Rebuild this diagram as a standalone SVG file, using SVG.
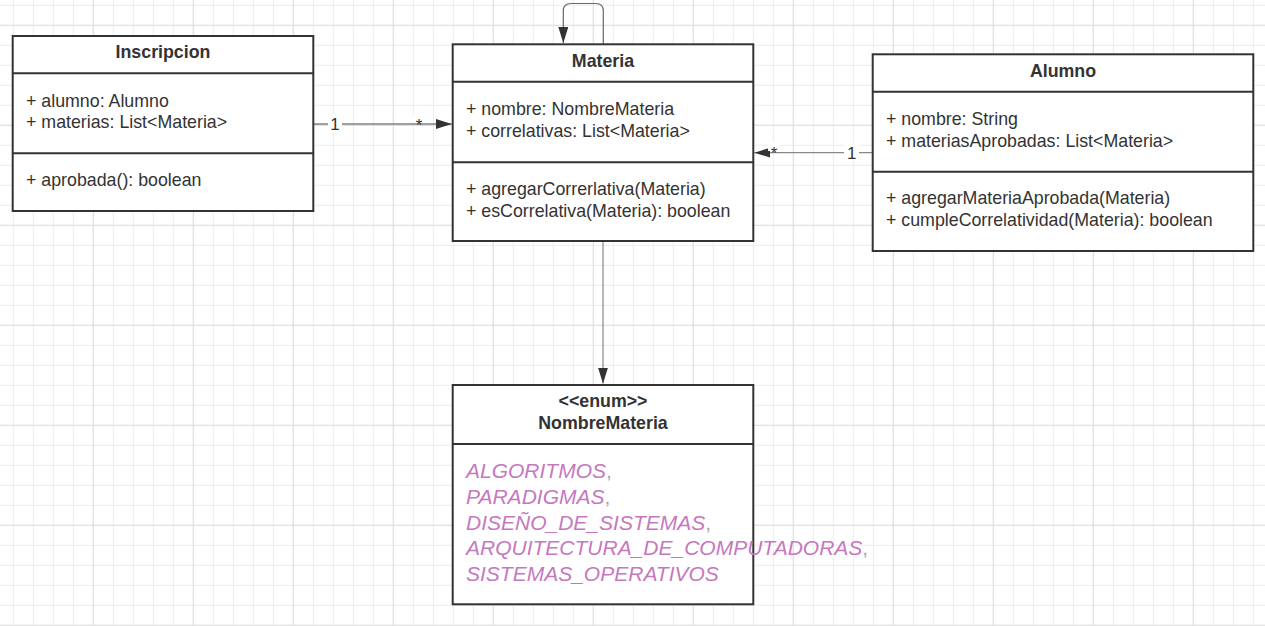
<svg xmlns="http://www.w3.org/2000/svg" width="1265" height="626" viewBox="0 0 1265 626">
<defs>
<pattern id="gmin" patternUnits="userSpaceOnUse" x="12.8" y="4.8" width="20" height="20">
<rect x="0" y="0" width="20" height="1" fill="#ececec"/>
<rect x="0" y="0" width="1" height="20" fill="#ececec"/>
</pattern>
<pattern id="gmaj" patternUnits="userSpaceOnUse" x="92.8" y="24.8" width="100" height="100">
<rect x="0" y="0" width="100" height="1" fill="#dedede"/>
<rect x="0" y="0" width="1" height="100" fill="#dedede"/>
</pattern>
<marker id="arr" viewBox="0 0 16 10" refX="16" refY="5" markerWidth="16" markerHeight="10" markerUnits="userSpaceOnUse" orient="auto">
<path d="M0,0 L16,5 L0,10 Z" fill="#333"/>
</marker>
<style>
.box{fill:#fff;stroke:#333;stroke-width:2}
.div{stroke:#333;stroke-width:2}
.t{font-family:"Liberation Sans",Arial,sans-serif;font-size:17.8px;fill:#333}
.b{font-weight:bold;text-anchor:middle}
.e{font-family:"Liberation Sans",Arial,sans-serif;font-size:21px;font-style:italic;fill:#c678bf}
.cm{fill:#aaa;font-style:normal}
.c{fill:none;stroke-width:1.2}
.lb{font-family:"Liberation Sans",Arial,sans-serif;font-size:17px;fill:#333;text-anchor:middle}
</style>
</defs>
<rect width="1265" height="626" fill="#fff"/>
<rect width="1265" height="626" fill="url(#gmin)"/>
<rect width="1265" height="626" fill="url(#gmaj)"/>

<g id="connectors">
<path class="c" stroke="#444" d="M313,124 L451.7,124" marker-end="url(#arr)"/>
<rect x="328" y="114" width="14" height="18" fill="#fff"/>
<text class="lb" x="335" y="130">1</text>
<rect x="413" y="114" width="11" height="9" fill="#fff"/>
<text class="lb" x="419" y="131">*</text>

<path class="c" stroke="#888" d="M872,152.7 L754.3,152.7" marker-end="url(#arr)"/>
<rect x="768" y="142" width="12" height="9" fill="#fff"/>
<text class="lb" x="774" y="159">*</text>
<rect x="844" y="143" width="15" height="18" fill="#fff"/>
<text class="lb" x="851.7" y="159">1</text>

<path class="c" stroke="#888" d="M603,242 L603,383.5" marker-end="url(#arr)"/>

<path class="c" stroke="#666" d="M603.3,44 L603.3,11 Q603.3,3.5 596,3.5 L571,3.5 Q563.3,3.5 563.3,11 L563.3,43" marker-end="url(#arr)"/>
</g>

<g id="inscripcion">
<rect class="box" x="12.7" y="36" width="300.6" height="175"/>
<line class="div" x1="12.7" y1="73.3" x2="313.3" y2="73.3"/>
<line class="div" x1="12.7" y1="153.3" x2="313.3" y2="153.3"/>
<text class="t b" x="163" y="58.3">Inscripcion</text>
<text class="t" x="26" y="106.7">+ alumno: Alumno</text>
<text class="t" x="26" y="128.3">+ materias: List&lt;Materia&gt;</text>
<text class="t" x="26" y="186">+ aprobada(): boolean</text>
</g>

<g id="materia">
<rect class="box" x="452.7" y="44.3" width="300.6" height="196.7"/>
<line class="div" x1="452.7" y1="81.7" x2="753.3" y2="81.7"/>
<line class="div" x1="452.7" y1="162.3" x2="753.3" y2="162.3"/>
<text class="t b" x="603" y="66.7">Materia</text>
<text class="t" x="466" y="115">+ nombre: NombreMateria</text>
<text class="t" x="466" y="136.7">+ correlativas: List&lt;Materia&gt;</text>
<text class="t" x="466" y="195">+ agregarCorrerlativa(Materia)</text>
<text class="t" x="466" y="216.7">+ esCorrelativa(Materia): boolean</text>
</g>

<g id="alumno">
<rect class="box" x="872.7" y="54.3" width="380.6" height="196.7"/>
<line class="div" x1="872.7" y1="91.7" x2="1253.3" y2="91.7"/>
<line class="div" x1="872.7" y1="171.7" x2="1253.3" y2="171.7"/>
<text class="t b" x="1063" y="76.7">Alumno</text>
<text class="t" x="886" y="125">+ nombre: String</text>
<text class="t" x="886" y="146.7">+ materiasAprobadas: List&lt;Materia&gt;</text>
<text class="t" x="886" y="204.4">+ agregarMateriaAprobada(Materia)</text>
<text class="t" x="886" y="226">+ cumpleCorrelatividad(Materia): boolean</text>
</g>

<g id="nombremateria">
<rect class="box" x="452.7" y="385" width="300.6" height="219.3"/>
<line class="div" x1="452.7" y1="444" x2="753.3" y2="444"/>
<text class="t b" x="603" y="406.7">&lt;&lt;enum&gt;&gt;</text>
<text class="t b" x="603" y="429.3">NombreMateria</text>
<text class="e" x="466" y="478.3">ALGORITMOS<tspan class="cm">,</tspan></text>
<text class="e" x="466" y="504">PARADIGMAS<tspan class="cm">,</tspan></text>
<text class="e" x="466" y="529.6">DISEÑO_DE_SISTEMAS<tspan class="cm">,</tspan></text>
<text class="e" x="466" y="555.2">ARQUITECTURA_DE_COMPUTADORAS<tspan class="cm">,</tspan></text>
<text class="e" x="466" y="580.8">SISTEMAS_OPERATIVOS</text>
</g>
</svg>
